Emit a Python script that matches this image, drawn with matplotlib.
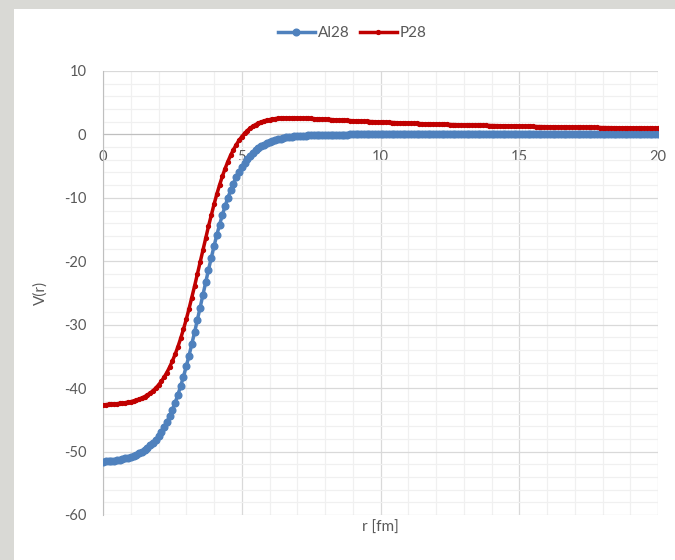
import matplotlib.pyplot as plt
from matplotlib.patches import Rectangle
from matplotlib.ticker import MultipleLocator

# radius grid [fm]
R_FM = [
    0.0, 0.1, 0.2, 0.3, 0.4, 0.5, 0.6, 0.7, 0.8, 0.9,
    1.0, 1.1, 1.2, 1.3, 1.4, 1.5, 1.6, 1.7, 1.8, 1.9,
    2.0, 2.1, 2.2, 2.3, 2.4, 2.5, 2.6, 2.7, 2.8, 2.9,
    3.0, 3.1, 3.2, 3.3, 3.4, 3.5, 3.6, 3.7, 3.8, 3.9,
    4.0, 4.1, 4.2, 4.3, 4.4, 4.5, 4.6, 4.7, 4.8, 4.9,
    5.0, 5.1, 5.2, 5.3, 5.4, 5.5, 5.6, 5.7, 5.8, 5.9,
    6.0, 6.1, 6.2, 6.3, 6.4, 6.5, 6.6, 6.7, 6.8, 6.9,
    7.0, 7.1, 7.2, 7.3, 7.4, 7.5, 7.6, 7.7, 7.8, 7.9,
    8.0, 8.1, 8.2, 8.3, 8.4, 8.5, 8.6, 8.7, 8.8, 8.9,
    9.0, 9.1, 9.2, 9.3, 9.4, 9.5, 9.6, 9.7, 9.8, 9.9,
    10.0, 10.1, 10.2, 10.3, 10.4, 10.5, 10.6, 10.7, 10.8, 10.9,
    11.0, 11.1, 11.2, 11.3, 11.4, 11.5, 11.6, 11.7, 11.8, 11.9,
    12.0, 12.1, 12.2, 12.3, 12.4, 12.5, 12.6, 12.7, 12.8, 12.9,
    13.0, 13.1, 13.2, 13.3, 13.4, 13.5, 13.6, 13.7, 13.8, 13.9,
    14.0, 14.1, 14.2, 14.3, 14.4, 14.5, 14.6, 14.7, 14.8, 14.9,
    15.0, 15.1, 15.2, 15.3, 15.4, 15.5, 15.6, 15.7, 15.8, 15.9,
    16.0, 16.1, 16.2, 16.3, 16.4, 16.5, 16.6, 16.7, 16.8, 16.9,
    17.0, 17.1, 17.2, 17.3, 17.4, 17.5, 17.6, 17.7, 17.8, 17.9,
    18.0, 18.1, 18.2, 18.3, 18.4, 18.5, 18.6, 18.7, 18.8, 18.9,
    19.0, 19.1, 19.2, 19.3, 19.4, 19.5, 19.6, 19.7, 19.8, 19.9,
    20.0,
]

AL28 = [
    -51.59, -51.55, -51.51, -51.46, -51.41, -51.34, -51.27, -51.18, -51.08, -50.96,
    -50.82, -50.67, -50.48, -50.27, -50.02, -49.74, -49.41, -49.04, -48.61, -48.11,
    -47.55, -46.91, -46.18, -45.37, -44.45, -43.42, -42.29, -41.03, -39.66, -38.17,
    -36.57, -34.87, -33.07, -31.20, -29.26, -27.29, -25.29, -23.31, -21.36, -19.46,
    -17.63, -15.88, -14.24, -12.71, -11.29, -9.99, -8.81, -7.74, -6.78, -5.92,
    -5.16, -4.49, -3.90, -3.38, -2.92, -2.53, -2.18, -1.88, -1.62, -1.40,
    -1.20, -1.03, -0.89, -0.76, -0.66, -0.56, -0.48, -0.42, -0.36, -0.31,
    -0.26, -0.23, -0.19, -0.17, -0.14, -0.12, -0.10, -0.09, -0.08, -0.07,
    -0.06, -0.05, -0.04, -0.04, -0.03, -0.03, -0.02, -0.02, -0.02, -0.01,
    -0.01, -0.01, -0.01, -0.01, -0.01, -0.01, -0.01, -0.01, -0.01, -0.01,
    0.0, 0.0, 0.0, 0.0, 0.0, 0.0, 0.0, 0.0, 0.0, 0.0,
    0.0, 0.0, 0.0, 0.0, 0.0, 0.0, 0.0, 0.0, 0.0, 0.0,
    0.0, 0.0, 0.0, 0.0, 0.0, 0.0, 0.0, 0.0, 0.0, 0.0,
    0.0, 0.0, 0.0, 0.0, 0.0, 0.0, 0.0, 0.0, 0.0, 0.0,
    0.0, 0.0, 0.0, 0.0, 0.0, 0.0, 0.0, 0.0, 0.0, 0.0,
    0.0, 0.0, 0.0, 0.0, 0.0, 0.0, 0.0, 0.0, 0.0, 0.0,
    0.0, 0.0, 0.0, 0.0, 0.0, 0.0, 0.0, 0.0, 0.0, 0.0,
    0.0, 0.0, 0.0, 0.0, 0.0, 0.0, 0.0, 0.0, 0.0, 0.0,
    0.0, 0.0, 0.0, 0.0, 0.0, 0.0, 0.0, 0.0, 0.0, 0.0,
    0.0, 0.0, 0.0, 0.0, 0.0, 0.0, 0.0, 0.0, 0.0, 0.0,
    0.0,
]

P28 = [
    -42.63, -42.60, -42.57, -42.54, -42.50, -42.47, -42.42, -42.36, -42.30, -42.22,
    -42.13, -42.02, -41.89, -41.73, -41.55, -41.33, -41.07, -40.77, -40.41, -39.99,
    -39.50, -38.94, -38.29, -37.54, -36.70, -35.73, -34.66, -33.47, -32.14, -30.71,
    -29.15, -27.49, -25.73, -23.91, -22.03, -20.13, -18.23, -16.35, -14.51, -12.76,
    -11.04, -9.44, -7.98, -6.62, -5.38, -4.27, -3.28, -2.41, -1.64, -0.94,
    -0.36, 0.16, 0.61, 0.98, 1.29, 1.56, 1.78, 1.97, 2.12, 2.25,
    2.34, 2.42, 2.49, 2.54, 2.57, 2.59, 2.61, 2.61, 2.62, 2.61,
    2.61, 2.59, 2.58, 2.56, 2.54, 2.52, 2.50, 2.47, 2.45, 2.43,
    2.40, 2.38, 2.35, 2.33, 2.30, 2.27, 2.26, 2.23, 2.21, 2.18,
    2.17, 2.14, 2.12, 2.10, 2.07, 2.05, 2.03, 2.01, 1.99, 1.97,
    1.95, 1.93, 1.91, 1.89, 1.88, 1.86, 1.84, 1.82, 1.81, 1.79,
    1.77, 1.76, 1.74, 1.73, 1.71, 1.70, 1.68, 1.67, 1.65, 1.64,
    1.63, 1.61, 1.60, 1.59, 1.57, 1.56, 1.55, 1.54, 1.52, 1.51,
    1.50, 1.49, 1.48, 1.47, 1.46, 1.44, 1.43, 1.42, 1.41, 1.40,
    1.39, 1.38, 1.37, 1.36, 1.35, 1.34, 1.34, 1.33, 1.32, 1.31,
    1.30, 1.29, 1.28, 1.27, 1.27, 1.26, 1.25, 1.24, 1.23, 1.23,
    1.22, 1.21, 1.20, 1.20, 1.19, 1.18, 1.17, 1.17, 1.16, 1.15,
    1.15, 1.14, 1.13, 1.13, 1.12, 1.11, 1.11, 1.10, 1.10, 1.09,
    1.08, 1.08, 1.07, 1.07, 1.06, 1.05, 1.05, 1.04, 1.04, 1.03,
    1.03, 1.02, 1.02, 1.01, 1.01, 1.00, 0.99, 0.99, 0.98, 0.98,
    0.98,
]

BLUE = '#4f81bd'
RED = '#c00000'
TEXT = '#595959'

plt.rcParams['font.family'] = ['Lato', 'DejaVu Sans']
plt.rcParams['axes.unicode_minus'] = False

fig = plt.figure(figsize=(6.75, 5.6), dpi=100)
fig.patch.set_facecolor('#d9d9d5')
# white chart area (screenshot has a grey strip left and top)
fig.patches.append(Rectangle((14 / 675, 0), 1, 1 - 9 / 560,
                             transform=fig.transFigure, facecolor='white',
                             edgecolor='none', zorder=-10))

ax = fig.add_axes([103 / 675, 1 - 515 / 560, 555 / 675, 444 / 560])
ax.set_zorder(1)
ax.set_facecolor('white')

ax.plot(R_FM, AL28, color=BLUE, lw=2.5, marker='o', ms=4.8,
        label='Al28', zorder=3)
ax.plot(R_FM, P28, color=RED, lw=2.5, marker='o', ms=2.8,
        label='P28', zorder=4)

ax.set_xlim(0, 20)
ax.set_ylim(-60, 10)
ax.xaxis.set_major_locator(MultipleLocator(5))
ax.xaxis.set_minor_locator(MultipleLocator(1))
ax.yaxis.set_major_locator(MultipleLocator(10))
ax.yaxis.set_minor_locator(MultipleLocator(2))
ax.set_axisbelow(True)
ax.grid(which='major', color='#d9d9d9', lw=0.9)
ax.grid(which='minor', color='#f0f0f0', lw=0.9)

for side in ['top', 'right']:
    ax.spines[side].set_visible(False)
ax.spines['bottom'].set_position(('data', 0))
ax.spines['bottom'].set_color('#bfbfbf')
ax.spines['left'].set_color('#bfbfbf')

ax.tick_params(which='both', length=0, colors=TEXT, labelsize=10.5)
ax.tick_params(axis='x', pad=11)
ax.tick_params(axis='y', pad=12)

ax.set_xlabel('r [fm]', color=TEXT, fontsize=11)
ax.set_ylabel('V(r)', color=TEXT, fontsize=11)
ax.xaxis.set_label_coords(0.5, -0.014)
ax.yaxis.set_label_coords(-0.1, 0.5)

fig.legend(loc='center', bbox_to_anchor=(0.522, 0.941), ncol=2,
           frameon=False, fontsize=11, handlelength=2.4,
           columnspacing=0.7, handletextpad=0.2, labelcolor=TEXT)

fig.savefig('out.png', dpi=100, facecolor=fig.get_facecolor())
